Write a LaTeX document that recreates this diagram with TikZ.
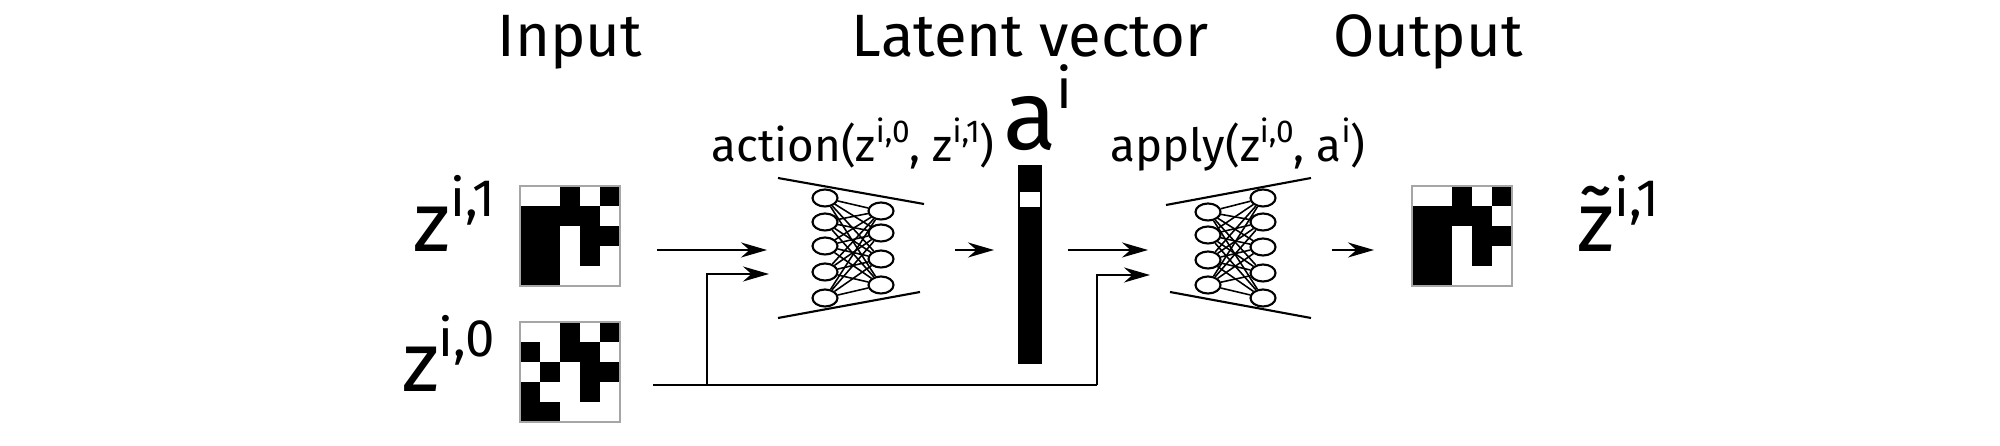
\documentclass[tikz,border=0pt]{standalone}
\usepackage{fontspec}
\setmainfont{Fira Sans}
\usetikzlibrary{arrows.meta,shapes.geometric}
\begin{document}
\begin{tikzpicture}[x=0.01cm,y=-0.01cm,
  ln/.style={line width=0.6pt},
  arr/.style={ln,-{Stealth[length=2.6mm,width=1.5mm]}},
  neu/.style={ellipse,draw,line width=0.6pt,minimum width=0.25cm,minimum height=0.17cm,inner sep=0pt},
  frame/.style={draw=gray!70,line width=0.5pt},
  title/.style={font=\fontsize{17}{17}\selectfont,anchor=base},
  lab/.style={font=\fontsize{13}{13}\selectfont,anchor=base},
  big/.style={font=\fontsize{24}{24}\selectfont,anchor=base}]
\useasboundingbox (0,0) rectangle (2000,446);
\newcommand{\sups}[1]{\raisebox{0.42em}{\fontsize{15}{15}\selectfont #1}}
\newcommand{\supl}[1]{\raisebox{0.42em}{\fontsize{9}{9}\selectfont #1}}
% titles
\node[title] (tin) at (570,57) {Input};
\node[title] (tlat) at (1030,57) {Latent vector};
\node[title] (tout) at (1428,57) {Output};
% grids
\newcommand{\gridA}[2]{%
  \foreach \c/\r in {2/0,4/0,0/1,1/1,2/1,3/1,0/2,1/2,3/2,4/2,0/3,1/3,3/3,0/4,1/4}
    \fill (#1+\c*20,#2+\r*20) rectangle ++(20,20);
  \draw[frame] (#1,#2) rectangle ++(100,100);}
\newcommand{\gridB}[2]{%
  \foreach \c/\r in {2/0,4/0,0/1,2/1,3/1,1/2,3/2,4/2,0/3,3/3,0/4,1/4}
    \fill (#1+\c*20,#2+\r*20) rectangle ++(20,20);
  \draw[frame] (#1,#2) rectangle ++(100,100);}
\gridA{520}{186}
\gridB{520}{322}
\gridA{1412}{186}
% labels
\node[big,anchor=base east,inner sep=0pt] (z1) at (496,252) {z\sups{i,1}};
\node[big,anchor=base east,inner sep=0pt] (z0) at (496,392) {z\sups{i,0}};
\node[big,anchor=base west,inner sep=0pt] (zt) at (1577,252) {\~{z}\sups{i,1}};
\node[lab] (lact) at (853,162) {action(z\supl{i,0}, z\supl{i,1})};
\node[lab] (lapp) at (1238,162) {apply(z\supl{i,0}, a\supl{i})};
\node[font=\fontsize{28}{28}\selectfont,anchor=base,inner sep=0pt] (la) at (1038,150) {a\raisebox{0.42em}{\fontsize{16}{16}\selectfont i}};
% latent bar
\fill (1018,165) rectangle (1042,364);
\fill[white] (1020,192) rectangle (1040,207);
% network 1
\foreach \i/\y in {1/198,2/222,3/246,4/272,5/298} \node[neu] (a\i) at (825,\y) {};
\foreach \i/\y in {1/211,2/233,3/259,4/285} \node[neu] (b\i) at (881,\y) {};
\foreach \i in {1,...,5} \foreach \j in {1,...,4} \draw[line width=0.45pt] (a\i) -- (b\j);
\draw[ln] (778,178) -- (924,204);
\draw[ln] (778,318) -- (920,292);
% network 2
\foreach \i/\y in {1/212,2/235,3/260,4/285} \node[neu] (c\i) at (1208,\y) {};
\foreach \i/\y in {1/198,2/222,3/247,4/273,5/298} \node[neu] (d\i) at (1263,\y) {};
\foreach \i in {1,...,4} \foreach \j in {1,...,5} \draw[line width=0.45pt] (c\i) -- (d\j);
\draw[ln] (1166,205) -- (1311,178);
\draw[ln] (1170,292) -- (1311,318);
% connectors
\coordinate (p1) at (657,250); \coordinate (q1) at (767,250);
\coordinate (p0) at (653,385); \coordinate (br1) at (707,385); \coordinate (br2) at (1097,385);
\coordinate (q0) at (769,274);
\coordinate (p2) at (955,250); \coordinate (q2) at (994,250);
\coordinate (p3) at (1068,250); \coordinate (q3) at (1148,250);
\coordinate (q4) at (1150,275);
\coordinate (p5) at (1332,250); \coordinate (q5) at (1374,250);
\draw[arr] (p1) -- (q1);
\draw[ln] (p0) -- (br2);
\draw[arr] (br1) |- (q0);
\draw[arr] (br2) |- (q4);
\draw[arr] (p2) -- (q2);
\draw[arr] (p3) -- (q3);
\draw[arr] (p5) -- (q5);
\end{tikzpicture}
\end{document}
